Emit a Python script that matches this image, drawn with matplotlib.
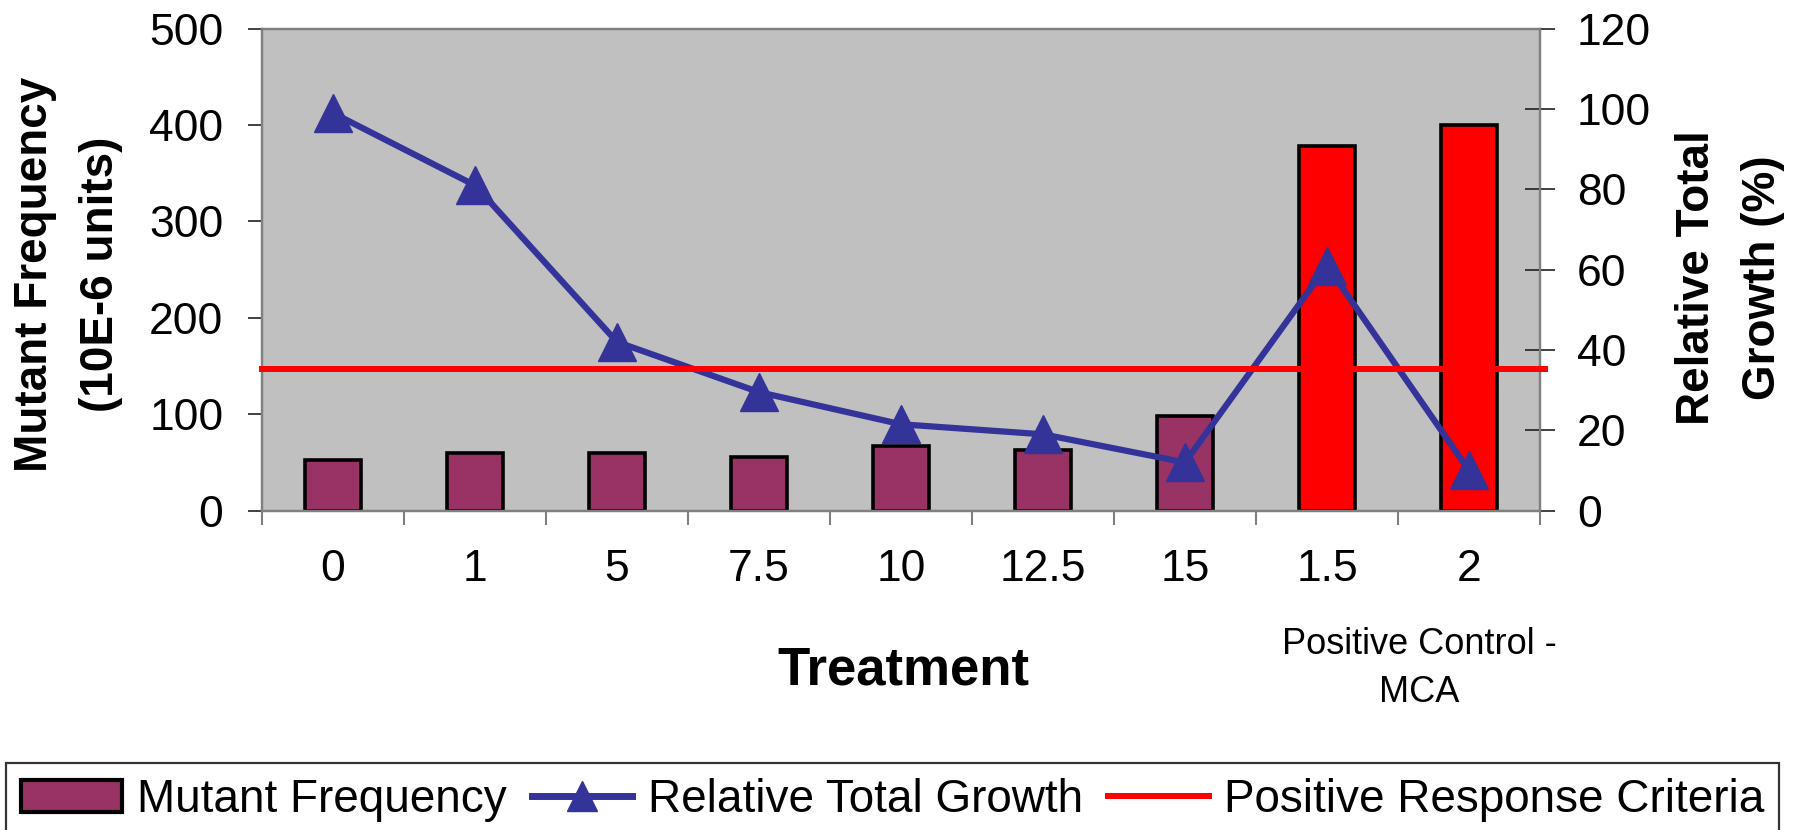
import numpy as np
import matplotlib
matplotlib.use('Agg')
import matplotlib.pyplot as plt
import matplotlib.transforms as mtransforms
from matplotlib.patches import Patch
from matplotlib.lines import Line2D

plt.rcParams['font.family'] = ['Liberation Sans', 'DejaVu Sans']

# data
treatment = ['0', '1', '5', '7.5', '10', '12.5', '15', '1.5', '2']
mutant_freq = [52, 60, 60, 56, 67, 63, 98, 378, 400]
rel_growth = [99, 81, 42, 29.5, 21.5, 19, 12, 61, 10]
criteria = 147  # positive response criteria (left axis units)
is_control = [False, False, False, False, False, False, False, True, True]

purple = '#993366'
red = '#FF0000'
blue = '#333399'
gray = '#808080'
bar_colors = [red if c else purple for c in is_control]

fig = plt.figure(figsize=(18.03, 8.30), dpi=100)
ax = fig.add_axes([262 / 1803, 1 - 510.6 / 830, (1540 - 262) / 1803, (510.6 - 28.75) / 830])
ax.set_facecolor('#C0C0C0')

x = np.arange(len(treatment))
ax.bar(x, mutant_freq, width=0.40, color=bar_colors, edgecolor='black', linewidth=2.6, zorder=2)
ax.set_xlim(-0.5, len(treatment) - 0.5)
ax.set_ylim(0, 500)
ax.set_yticks(np.arange(0, 501, 100))

# category boundaries as major ticks, labels on minor ticks at centres
ax.set_xticks(np.arange(-0.5, len(treatment), 1))
ax.set_xticklabels([])
ax.set_xticks(x, treatment, minor=True)
ax.tick_params(axis='x', which='major', direction='out', length=10, width=1.5, color=gray)
ax.tick_params(axis='x', which='minor', length=0, pad=28, labelsize=32)
ax.tick_params(axis='y', direction='out', length=10, width=1.2, color='#202020', pad=17.8, labelsize=32)

ax2 = ax.twinx()
ax2.plot(x, rel_growth, color=blue, linewidth=4.5, marker='^', markersize=27,
         markeredgecolor=blue, markerfacecolor=blue, zorder=3)
ax2.set_ylim(0, 120)
ax2.set_yticks(np.arange(0, 121, 20))
ax2.tick_params(axis='y', direction='inout', length=21, width=1.2, color='#202020', pad=16, labelsize=32)

trans = mtransforms.blended_transform_factory(ax2.transAxes, ax.transData)
ax2.plot([0, 1.004], [criteria, criteria], color=red, linewidth=4.3, transform=trans,
         clip_on=False, zorder=4)

for a in (ax, ax2):
    for s in a.spines.values():
        s.set_color(gray)
        s.set_linewidth(1.6)

fig.text(68 / 1803, 1 - 274 / 830, 'Mutant Frequency\n(10E-6 units)', rotation=90,
         ha='center', va='center', fontsize=33, fontweight='bold', linespacing=1.65)
fig.text(1730 / 1803, 1 - 278 / 830, 'Relative Total\nGrowth (%)', rotation=90,
         ha='center', va='center', fontsize=33, fontweight='bold', linespacing=1.65)
fig.text(903 / 1803, 1 - 670 / 830, 'Treatment', ha='center', va='center',
         fontsize=38, fontweight='bold')
fig.text(1419 / 1803, 1 - 668.5 / 830, 'Positive Control -\nMCA', ha='center', va='center',
         fontsize=26, linespacing=1.45)

handles = [
    Patch(facecolor=purple, edgecolor='black', linewidth=3),
    Line2D([], [], color=blue, linewidth=5, marker='^', markersize=22),
    Line2D([], [], color=red, linewidth=4.3),
]
labels = ['Mutant Frequency', 'Relative Total Growth', 'Positive Response Criteria']
leg = fig.legend(handles, labels, loc='upper left', bbox_to_anchor=(6 / 1803, 1 - 763 / 830),
                 ncol=3, fontsize=33, frameon=True, fancybox=False, shadow=False,
                 borderpad=0.32, handlelength=2.2, handletextpad=0.33, columnspacing=0.55,
                 borderaxespad=0, numpoints=1)
leg.get_frame().set_edgecolor('black')
leg.get_frame().set_linewidth(1.6)

fig.savefig('out.png', dpi=100)
